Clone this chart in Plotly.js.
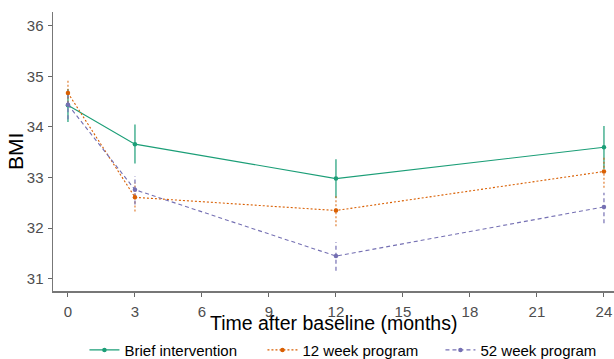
<!DOCTYPE html>
<html><head><meta charset="utf-8">
<script src="https://cdn.plot.ly/plotly-3.0.1.min.js"></script>
<style>html,body{margin:0;padding:0;background:#fff}#c{width:614px;height:359px}</style>
</head><body><div id="c"></div>
<script>
const months = [0, 3, 12, 24];
const seriesNames = ["Brief intervention", "12 week program", "52 week program"];
const briefMean = [34.43, 33.66, 32.98, 33.60];
const briefLow  = [34.10, 33.28, 32.60, 33.17];
const briefHigh = [34.75, 34.05, 33.36, 34.02];
const w12Mean = [34.67, 32.61, 32.35, 33.12];
const w12Low  = [34.40, 32.33, 32.04, 32.80];
const w12High = [34.92, 32.90, 32.65, 33.42];
const w52Mean = [34.44, 32.76, 31.45, 32.42];
const w52Low  = [34.15, 32.47, 31.16, 32.10];
const w52High = [34.72, 33.03, 31.73, 32.70];
const xTicks = [0, 3, 6, 9, 12, 15, 18, 21, 24];
const yTicks = [31, 32, 33, 34, 35, 36];
const xTitle = "Time after baseline (months)";
const yTitle = "BMI";

const colors = ["#1B9E77", "#D95F02", "#7570B3"];
const errColors = ["rgba(27,158,119,0.75)", "rgba(217,95,2,0.6)", "rgba(117,112,179,0.75)"];
const dashes = ["solid", "2px,2px", "4px,3px"];
const means = [briefMean, w12Mean, w52Mean];
const lows = [briefLow, w12Low, w52Low];
const highs = [briefHigh, w12High, w52High];

const traces = [];
for (let s = 0; s < 3; s++) {
  const ex = [], ey = [];
  for (let i = 0; i < months.length; i++) {
    ex.push(months[i], months[i], null);
    ey.push(lows[s][i], highs[s][i], null);
  }
  traces.push({x: ex, y: ey, mode: "lines", showlegend: false, hoverinfo: "skip",
    line: {color: errColors[s], width: 1.6, dash: dashes[s]}});
}
for (let s = 0; s < 3; s++) {
  traces.push({x: months, y: means[s], name: seriesNames[s], mode: "lines+markers",
    line: {color: colors[s], width: 1.1, dash: dashes[s]},
    marker: {color: colors[s], size: 4.5}});
}

const layout = {
  width: 614, height: 359,
  margin: {l: 53, r: 0, t: 12, b: 68, autoexpand: false},
  paper_bgcolor: "#fff", plot_bgcolor: "#fff",
  font: {family: "Liberation Sans, Arial, sans-serif", color: "#4d4d4d"},
  xaxis: {range: [-0.67, 24.45], tickvals: xTicks, ticks: "outside", ticklen: 4, tickcolor: "#666",
    showgrid: false, zeroline: false, showline: true, linecolor: "#777", linewidth: 1.5,
    tickfont: {size: 15, color: "#4d4d4d"}, ticklabelstandoff: 2},
  yaxis: {range: [30.76, 36.27], tickvals: yTicks, ticks: "outside", ticklen: 4, tickcolor: "#666",
    showgrid: false, zeroline: false, showline: true, linecolor: "#777", linewidth: 1.5,
    tickfont: {size: 15, color: "#4d4d4d"}, ticklabelstandoff: 1},
  annotations: [
    {text: xTitle, xref: "paper", yref: "paper", x: 0.5, y: -0.116, xanchor: "center", yanchor: "middle",
     showarrow: false, font: {size: 19.5, color: "#000"}},
    {text: yTitle, xref: "paper", yref: "paper", x: -0.067, y: 0.5, xanchor: "center", yanchor: "middle",
     textangle: -90, showarrow: false, font: {size: 21, color: "#000"}}
  ],
  legend: {orientation: "h", x: 0.532, xanchor: "center", y: -0.212, yanchor: "middle",
    font: {size: 15, color: "#000"}, entrywidth: 133, entrywidthmode: "pixels"},
  showlegend: true
};
Plotly.newPlot("c", traces, layout, {displayModeBar: false, staticPlot: true});
</script></body></html>
